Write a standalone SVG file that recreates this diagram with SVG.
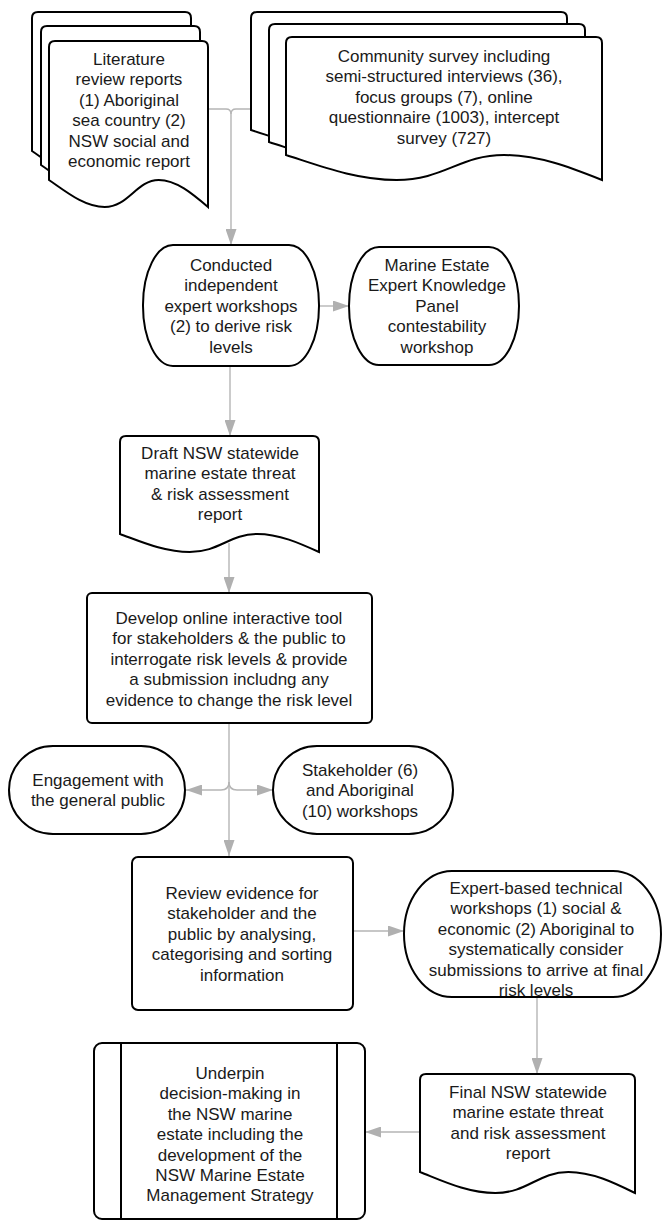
<svg xmlns="http://www.w3.org/2000/svg" width="663" height="1220" viewBox="0 0 663 1220">
<style>
.n{fill:#fff;stroke:#000;stroke-width:2}
.c{fill:none;stroke:#b5b5b5;stroke-width:1.4}
text{font-family:"Liberation Sans",Arial,sans-serif;font-size:17px;fill:#1a1a1a;text-anchor:middle}
</style>
<defs>
<marker id="ah" markerUnits="userSpaceOnUse" markerWidth="16" markerHeight="11" refX="16" refY="5.5" orient="auto">
<path d="M0,0 L16,5.5 L0,11 Z" fill="#b0b0b0"/>
</marker>
</defs>
<rect width="663" height="1220" fill="#fff"/>
<g id="connectors">
<path class="c" d="M208,109 H226 Q231,109 231,114 V245" marker-end="url(#ah)"/>
<path class="c" d="M251,109 H236 Q231,109 231,114"/>
<path class="c" d="M319,306 H349" marker-end="url(#ah)"/>
<path class="c" d="M230,366 V436" marker-end="url(#ah)"/>
<path class="c" d="M229,543 V593" marker-end="url(#ah)"/>
<path class="c" d="M229,723 V856" marker-end="url(#ah)"/>
<path class="c" d="M229,782 Q229,790 221,790 H186" marker-end="url(#ah)"/>
<path class="c" d="M229,782 Q229,790 237,790 H273" marker-end="url(#ah)"/>
<path class="c" d="M353,931 H404" marker-end="url(#ah)"/>
<path class="c" d="M537,997 V1074" marker-end="url(#ah)"/>
<path class="c" d="M420,1132 H365" marker-end="url(#ah)"/>
</g>
<g id="literature">
<path class="n" d="M38,12 H185 Q191,12 191,18 V178 C175.1,164.5 159.2,151 141.7,151 C119.5,151 111.5,178 87.7,178 C67,178 47.9,161.8 32,151 V18 Q32,12 38,12 Z"/>
<path class="n" d="M47,26 H194 Q200,26 200,32 V192 C184.1,178.5 168.2,165 150.7,165 C128.5,165 120.5,192 96.7,192 C76,192 56.9,175.8 41,165 V32 Q41,26 47,26 Z"/>
<path class="n" d="M55,41 H202 Q208,41 208,47 V207 C192.1,193.5 176.2,180 158.7,180 C136.5,180 128.5,207 104.7,207 C84,207 64.9,190.8 49,180 V47 Q49,41 55,41 Z"/>
<text x="129" y="65">Literature</text>
<text x="129" y="85.4">review reports</text>
<text x="129" y="105.8">(1) Aboriginal</text>
<text x="129" y="126.2">sea country (2)</text>
<text x="129" y="146.6">NSW social and</text>
<text x="129" y="167">economic report</text>
</g>
<g id="community">
<path class="n" d="M257,12 H561 Q567,12 567,18 V155 C535.4,142.5 503.8,130 469,130 C424.8,130 409,155 361.6,155 C320.5,155 282.6,140 251,130 V18 Q251,12 257,12 Z"/>
<path class="n" d="M275,24 H579 Q585,24 585,30 V167 C553.4,154.5 521.8,142 487,142 C442.8,142 427,167 379.6,167 C338.5,167 300.6,152 269,142 V30 Q269,24 275,24 Z"/>
<path class="n" d="M292,37 H596 Q602,37 602,43 V180 C570.4,167.5 538.8,155 504,155 C459.8,155 444,180 396.6,180 C355.5,180 317.6,165 286,155 V43 Q286,37 292,37 Z"/>
<text x="444" y="62">Community survey including</text>
<text x="444" y="82.4">semi-structured interviews (36),</text>
<text x="444" y="102.8">focus groups (7), online</text>
<text x="444" y="123.2">questionnaire (1003), intercept</text>
<text x="444" y="143.6">survey (727)</text>
</g>
<g id="conducted">
<rect class="n" x="143" y="245" width="176" height="121" rx="30" ry="60"/>
<text x="231" y="271">Conducted</text>
<text x="231" y="291.4">independent</text>
<text x="231" y="311.8">expert workshops</text>
<text x="231" y="332.2">(2) to derive risk</text>
<text x="231" y="352.6">levels</text>
</g>
<g id="marine">
<rect class="n" x="349" y="247" width="170" height="118" rx="30" ry="59"/>
<text x="437" y="271">Marine Estate</text>
<text x="437" y="291.4">Expert Knowledge</text>
<text x="437" y="311.8">Panel</text>
<text x="437" y="332.2">contestability</text>
<text x="437" y="352.6">workshop</text>
</g>
<g id="draft">
<path class="n" d="M126,436 H313 Q319,436 319,442 V552 C299.1,543 279.2,534 257.3,534 C229.5,534 219.5,552 189.7,552 C163.8,552 139.9,541.2 120,534 V442 Q120,436 126,436 Z"/>
<text x="220" y="459">Draft NSW statewide</text>
<text x="220" y="479.4">marine estate threat</text>
<text x="220" y="499.8">&amp; risk assessment</text>
<text x="220" y="520.2">report</text>
</g>
<g id="develop">
<rect class="n" x="87" y="593" width="285" height="130" rx="5"/>
<text x="229" y="624">Develop online interactive tool</text>
<text x="229" y="644.4">for stakeholders &amp; the public to</text>
<text x="229" y="664.8">interrogate risk levels &amp; provide</text>
<text x="229" y="685.2">a submission includng any</text>
<text x="229" y="705.6">evidence to change the risk level</text>
</g>
<g id="engagement">
<rect class="n" x="9" y="746" width="176" height="88" rx="44" ry="44"/>
<text x="98" y="786">Engagement with</text>
<text x="98" y="806.4">the general public</text>
</g>
<g id="stakeholder">
<rect class="n" x="273" y="746" width="180" height="88" rx="44" ry="44"/>
<text x="360" y="776">Stakeholder (6)</text>
<text x="360" y="796.4">and Aboriginal</text>
<text x="360" y="816.8">(10) workshops</text>
</g>
<g id="review">
<rect class="n" x="132" y="857" width="221" height="153" rx="6"/>
<text x="242" y="899">Review evidence for</text>
<text x="242" y="919.4">stakeholder and the</text>
<text x="242" y="939.8">public by analysing,</text>
<text x="242" y="960.2">categorising and sorting</text>
<text x="242" y="980.6">information</text>
</g>
<g id="expert">
<rect class="n" x="404" y="871" width="257" height="126" rx="48" ry="63"/>
<text x="536" y="894">Expert-based technical</text>
<text x="536" y="914.4">workshops (1) social &amp;</text>
<text x="536" y="934.8">economic (2) Aboriginal to</text>
<text x="536" y="955.2">systematically consider</text>
<text x="536" y="975.6">submissions to arrive at final</text>
<text x="536" y="996">risk levels</text>
</g>
<g id="final">
<path class="n" d="M426,1074 H629 Q635,1074 635,1080 V1193 C613.5,1182.5 592,1172 568.4,1172 C538.3,1172 527.5,1193 495.3,1193 C467.3,1193 441.5,1180.4 420,1172 V1080 Q420,1074 426,1074 Z"/>
<text x="528" y="1098">Final NSW statewide</text>
<text x="528" y="1118.4">marine estate threat</text>
<text x="528" y="1138.8">and risk assessment</text>
<text x="528" y="1159.2">report</text>
</g>
<g id="underpin">
<rect class="n" x="94" y="1043" width="271" height="176" rx="8"/>
<line x1="121" y1="1043" x2="121" y2="1219" stroke="#000" stroke-width="2"/>
<line x1="337" y1="1043" x2="337" y2="1219" stroke="#000" stroke-width="2"/>
<text x="230" y="1079">Underpin</text>
<text x="230" y="1099.4">decision-making in</text>
<text x="230" y="1119.8">the NSW marine</text>
<text x="230" y="1140.2">estate including the</text>
<text x="230" y="1160.6">development of the</text>
<text x="230" y="1181">NSW Marine Estate</text>
<text x="230" y="1201.4">Management Strategy</text>
</g>
</svg>
